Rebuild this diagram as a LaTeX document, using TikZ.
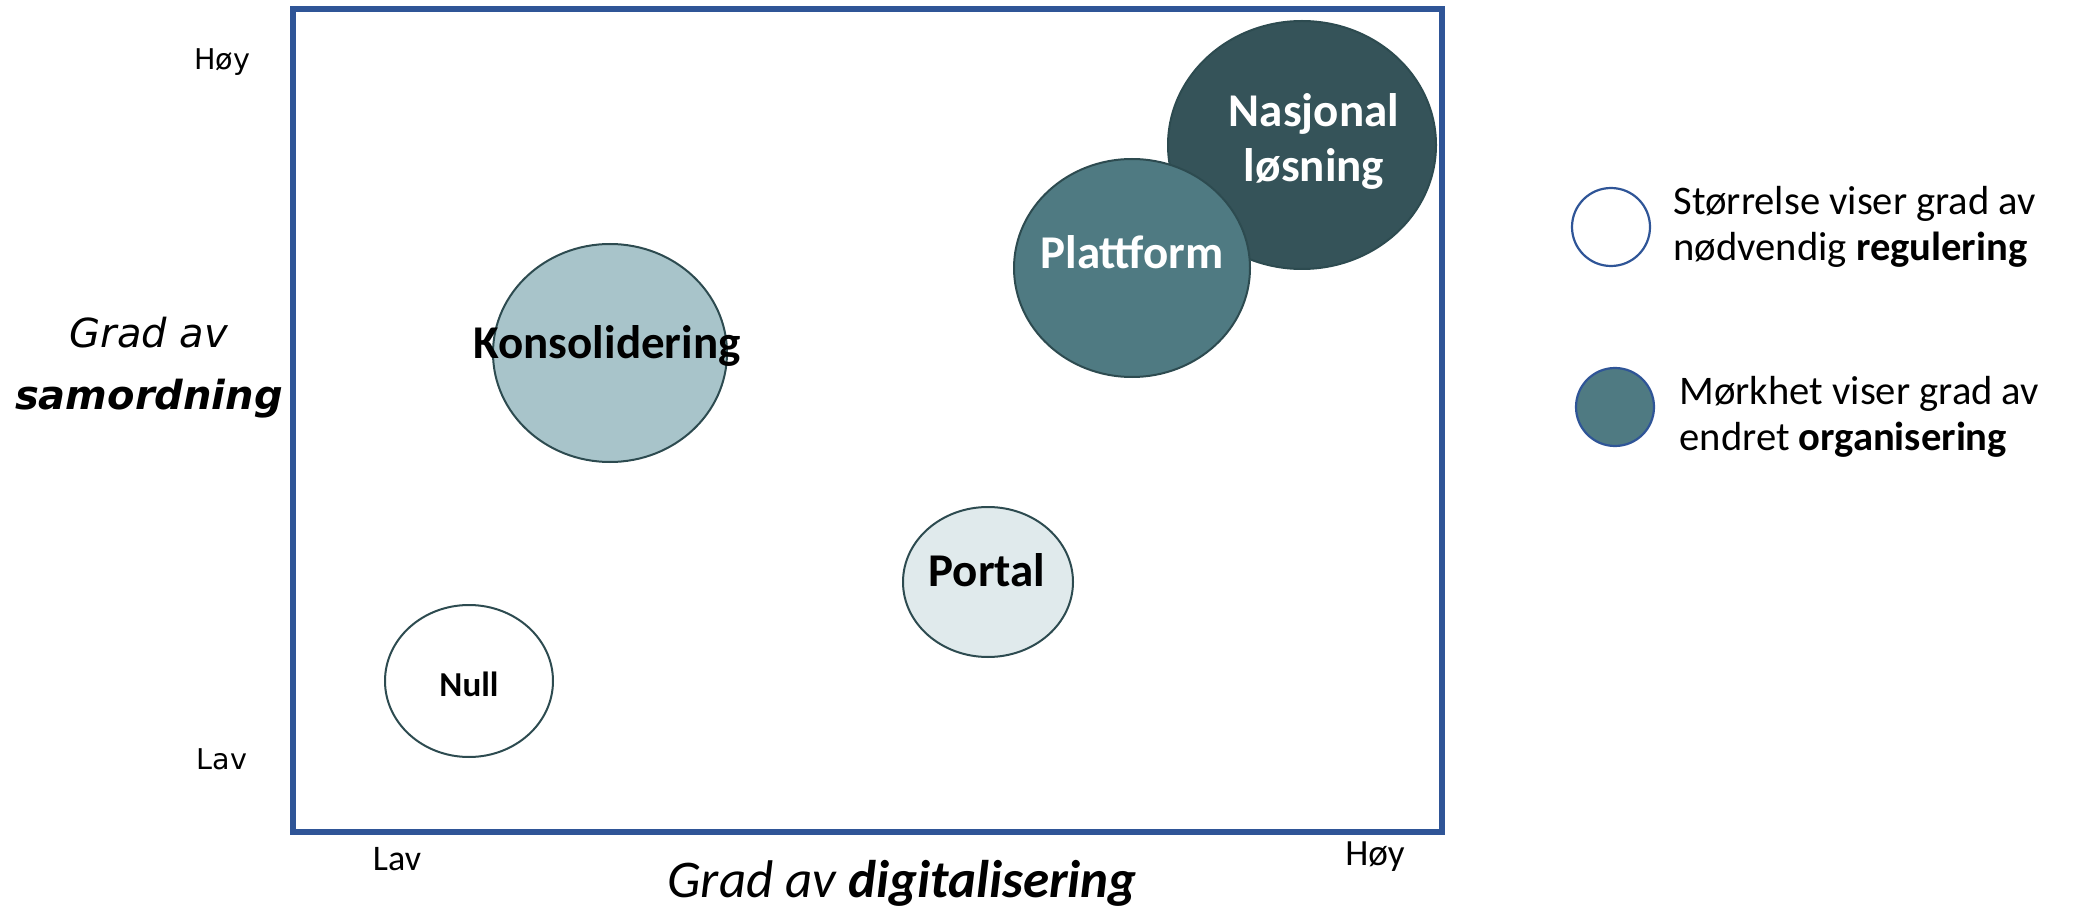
\documentclass[tikz,border=0pt]{standalone}
\usepackage{fontspec}
\setmainfont{Carlito}
\newfontfamily\axisfont{DejaVu Sans}
\usetikzlibrary{positioning, shapes.geometric}

\definecolor{frameblue}{HTML}{2F5597}
\definecolor{bubbleedge}{HTML}{2D4B50}
\definecolor{nasjonalfill}{HTML}{355359}
\definecolor{plattformfill}{HTML}{4F7A82}
\definecolor{konsfill}{HTML}{A8C4CA}
\definecolor{portalfill}{HTML}{E0EAEC}

\begin{document}
\begin{tikzpicture}[
    % one unit = one pixel of the reference, y pointing down
    x=0.5pt, y=-0.5pt,
    bubble/.style={
        ellipse,
        draw=bubbleedge,
        line width=1pt,
        inner sep=0pt
    },
    bubble text/.style={
        font=\bfseries\fontsize{23.5}{27.5}\selectfont,
        align=center,
        inner sep=0pt
    },
    legend dot/.style={
        circle,
        draw=frameblue,
        line width=1.1pt,
        minimum size=39pt,
        inner sep=0pt
    },
    legend text/.style={
        font=\fontsize{20.3}{22.8}\selectfont,
        align=left,
        inner sep=0pt
    },
    tick text/.style={
        font=\axisfont\fontsize{14.3}{16}\selectfont,
        inner sep=0pt
    }
]

    \useasboundingbox (0,0) rectangle (2073,909);

    % --- 1. Frame ---
    \draw[frameblue, line width=2.6pt] (293,9) rectangle (1442,832);

    % --- 2. Bubbles ---
    \node[bubble, fill=nasjonalfill, minimum width=134pt, minimum height=124pt] (nasjonal) at (1302,145) {};
    \node[bubble, fill=plattformfill, minimum width=118pt, minimum height=109pt] (plattform) at (1132,268) {};
    \node[bubble, fill=konsfill, minimum width=117pt, minimum height=109pt] (kons) at (610,353) {};
    \node[bubble, fill=portalfill, minimum width=85pt, minimum height=75pt] (portal) at (988,582) {};
    \node[bubble, fill=white, minimum width=84pt, minimum height=76pt] (null) at (469,681) {};

    % text sits a little above the middle of each bubble
    \node[bubble text, text=white, anchor=base] (nasjonaltext) at (1314,182) {Nasjonal\\løsning};
    \node[bubble text, text=white, anchor=base] (plattformtext) at (1132,269) {Plattform};
    \node[bubble text, anchor=base] (konstext) at (607,358) {Konsolidering};
    \node[bubble text, anchor=base] (portaltext) at (987,586) {Portal};
    \node[bubble text, font=\bfseries\fontsize{17.5}{21}\selectfont, anchor=base] (nulltext) at (469,696) {Null};

    % --- 3. Axes ---
    \node[tick text] (yhigh) at (222,62) {Høy};
    \node[tick text] (ylow) at (222,759) {Lav};
    \node[font=\axisfont\itshape\fontsize{20}{31}\selectfont, align=center, inner sep=0pt]
        (yaxis) at (149,368) {Grad av\\\textbf{samordning}};

    \node[font=\fontsize{18}{21}\selectfont, inner sep=0pt] (xlow) at (397,859) {Lav};
    \node[font=\fontsize{18.5}{21}\selectfont, inner sep=0pt] (xhigh) at (1375,857) {Høy};
    \node[font=\itshape\fontsize{26.5}{30}\selectfont, anchor=base, inner sep=0pt]
        (xaxis) at (902,897) {Grad av \textbf{digitalisering}};

    % --- 4. Legend ---
    \node[legend dot, fill=white] (legsize) at (1611,227) {};
    \node[legend text] (legsizetext) [right=11pt of legsize] {Størrelse viser grad av\\nødvendig \textbf{regulering}};
    \node[legend dot, fill=plattformfill] (legdark) at (1615,407) {};
    \node[legend text, yshift=-5pt] (legdarktext) [right=12pt of legdark] {Mørkhet viser grad av\\endret \textbf{organisering}};

\end{tikzpicture}
\end{document}
